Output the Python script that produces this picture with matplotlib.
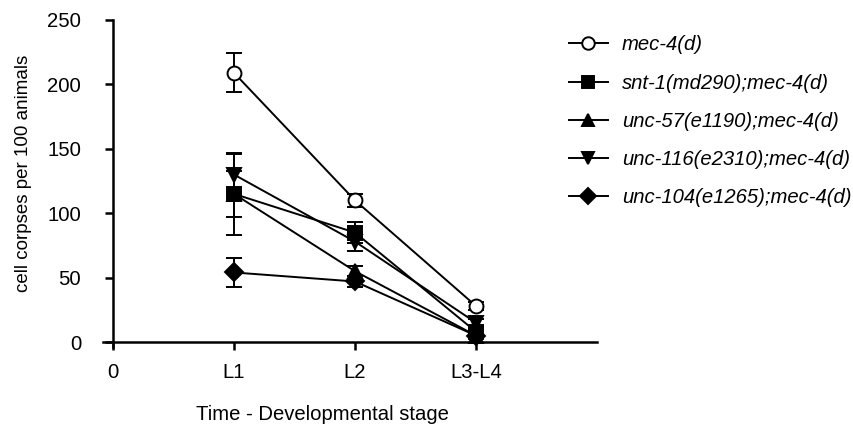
''' cell corpse counts across developmental stages '''
import matplotlib
matplotlib.use('Agg')
import matplotlib.pyplot as plt
from matplotlib.lines import Line2D

plt.rcParams['font.family'] = ['Liberation Sans', 'DejaVu Sans']

stages = ['L1', 'L2', 'L3-L4']
stage_pos = [1, 2, 3]

strains = ['mec-4(d)',
           'snt-1(md290);mec-4(d)',
           'unc-57(e1190);mec-4(d)',
           'unc-116(e2310);mec-4(d)',
           'unc-104(e1265);mec-4(d)']

mec4 = [209, 110, 28]
mec4_err = [15, 5, 3]
snt1 = [115, 85, 8]
snt1_err = [32, 8, 3]
unc57 = [115, 55, 5]
unc57_err = [18, 4, 2]
unc116 = [130, 78, 15]
unc116_err = [16, 7, 3]
unc104 = [54, 47, 5]
unc104_err = [11, 4, 2]

markers = ['o', 's', '^', 'v', 'D']
sizes = [10, 10, 10, 10, 9.5]
series = [(mec4, mec4_err), (snt1, snt1_err), (unc57, unc57_err),
          (unc116, unc116_err), (unc104, unc104_err)]

fig = plt.figure(figsize=(8.54, 4.28), dpi=100)
ax = fig.add_axes([0.121, 0.1888, 0.578, 0.7645])

# draw the back series first so mec-4(d) sits on top
handles = []
for i in reversed(range(len(strains))):
    y, e = series[i]
    face = 'white' if markers[i] == 'o' else 'black'
    ax.errorbar(stage_pos, y, yerr=e, color='black', lw=1.4,
                marker=markers[i], ms=sizes[i], mfc=face, mec='black', mew=1.4,
                capsize=5.5, capthick=1.4, elinewidth=1.4,
                zorder=3 + (5 - i))
for i in range(len(strains)):
    face = 'white' if markers[i] == 'o' else 'black'
    handles.append(Line2D([], [], color='black', lw=1.4, marker=markers[i],
                          ms=sizes[i] * 0.9, mfc=face, mec='black', mew=1.4))

ax.set_xlim(-0.08, 4)
ax.set_ylim(-4, 250)
ax.spines['left'].set_position(('data', 0))
ax.spines['bottom'].set_position(('data', 0))
ax.spines['right'].set_visible(False)
ax.spines['top'].set_visible(False)
for s in ['left', 'bottom']:
    ax.spines[s].set_linewidth(1.8)

ax.set_yticks([0, 50, 100, 150, 200, 250])
ax.set_xticks([0] + stage_pos)
ax.set_xticklabels(['0'] + stages)
ax.tick_params(axis='both', labelsize=14.6, width=1.8, length=6, color='black')
ax.tick_params(axis='x', pad=9)
ax.tick_params(axis='y', pad=17)

ax.set_ylabel('cell corpses per 100 animals', fontsize=13.5)
ax.yaxis.set_label_coords(-0.144, 0.53)
fig.text(0.377, 0.019, 'Time - Developmental stage', fontsize=14.6,
         ha='center', va='baseline')

leg = fig.legend(handles, strains, loc='upper left', bbox_to_anchor=(0.645, 0.96),
                 frameon=False, fontsize=14.6, handlelength=1.9, handletextpad=0.7,
                 labelspacing=0.95)
for t in leg.get_texts():
    t.set_style('italic')

fig.savefig('out.png', dpi=100)
